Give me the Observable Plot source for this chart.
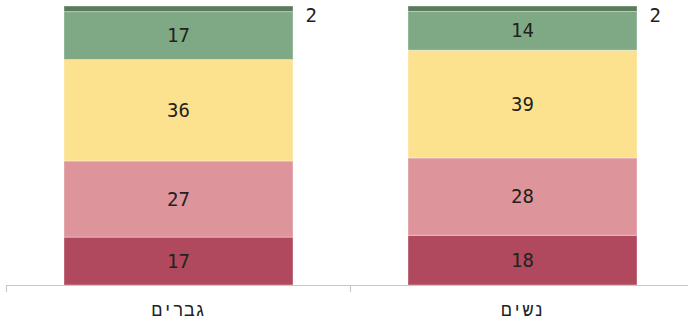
<!DOCTYPE html>
<html>
<head>
<meta charset="utf-8">
<script src="https://cdn.jsdelivr.net/npm/d3@7"></script>
<script src="https://cdn.jsdelivr.net/npm/@observablehq/plot@0.6"></script>
<style>
  html, body { margin: 0; padding: 0; background: #fff; }
  svg { display: block; }
</style>
</head>
<body>
<div id="chart"></div>
<script>
const groups = ["גברים", "נשים"];
const levels = ["l1", "l2", "l3", "l4", "l5"];
const menValues = [17, 27, 36, 17, 2];
const womenValues = [18, 28, 39, 14, 2];
const levelColors = ["#b0495e", "#dd949b", "#fce28f", "#7fa884", "#5a7c5c"];

const seriesByGroup = [menValues, womenValues];

// normalized stack positions
const stacked = [];
groups.forEach((g, gi) => {
  const vals = seriesByGroup[gi];
  const total = d3.sum(vals);
  let acc = 0;
  vals.forEach((v, li) => {
    const y1 = acc / total;
    acc += v;
    const y2 = acc / total;
    stacked.push({group: g, gi, li, value: v, y1, y2, ym: (y1 + y2) / 2});
  });
});
const inner = stacked.filter(d => d.li < 4);
const outer = stacked.filter(d => d.li === 4);

const font = "DejaVu Sans Mono";
const labelFont = "Liberation Mono";

const chart = Plot.plot({
  width: 688,
  height: 322,
  marginTop: 6,
  marginBottom: 37,
  marginLeft: 6,
  marginRight: 0,
  style: {fontFamily: font, fontSize: "19px", color: "#222", background: "#fff"},
  x: {domain: [0, 2], range: [6, 694], axis: null},
  y: {domain: [0, 1], range: [285, 6], axis: null},
  color: {domain: levels, range: levelColors},
  marks: [
    Plot.rectY(stacked, {
      x1: d => d.gi, x2: d => d.gi + 1,
      y1: "y1", y2: "y2",
      fill: d => levels[d.li],
      insetLeft: 58, insetRight: 57,
      stroke: "white", strokeOpacity: 0.35, strokeWidth: 1
    }),
    Plot.text(inner, {
      x: d => d.gi + 0.5, y: "ym",
      text: d => String(d.value),
      fill: "#222", fontSize: 19, fontFamily: font
    }),
    Plot.text(outer, {
      x: d => d.gi + 1, y: "y2",
      text: d => String(d.value),
      textAnchor: "start", dx: -45, dy: 9,
      fill: "#222", fontSize: 19, fontFamily: font
    }),
    Plot.ruleY([0], {x1: 0, x2: 2, stroke: "#c8c8c8", strokeWidth: 1.2}),
    Plot.axisX({
      ticks: [0, 1, 2], tickFormat: () => "", tickSize: 7,
      stroke: "#c8c8c8", strokeWidth: 1.2
    }),
    Plot.axisX({
      ticks: [0.5, 1.5], tickFormat: d => groups[Math.floor(d)],
      tickSize: 0, tickPadding: 18, fontSize: 18, fontFamily: labelFont, fill: "#222"
    })
  ]
});
document.getElementById("chart").appendChild(chart);
</script>
</body>
</html>
